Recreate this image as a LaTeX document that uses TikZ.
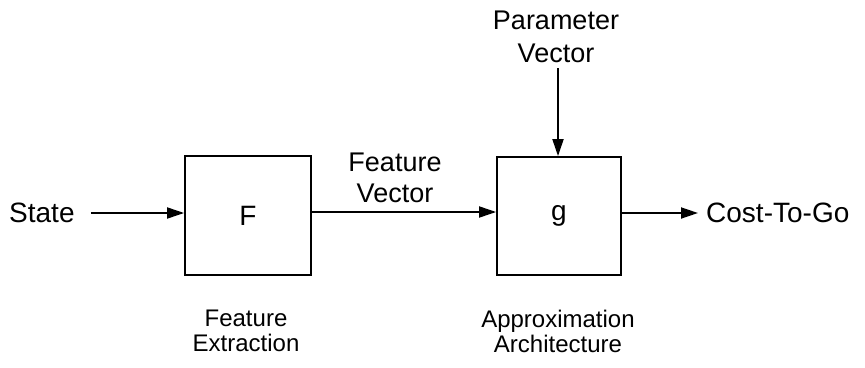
\documentclass[tikz,border=0pt]{standalone}
\usepackage{fontspec}
\setmainfont{Liberation Sans}
\usetikzlibrary{arrows.meta}
\begin{document}
\begin{tikzpicture}[x=1pt,y=-1pt,
  blk/.style={draw,line width=1.8pt,minimum width=126pt,minimum height=119pt,inner sep=0pt,font=\fontsize{28}{30}\selectfont},
  lbl/.style={inner sep=2pt,align=center},
  conn/.style={line width=1.8pt,-{Triangle[length=17pt,width=11pt]}}]
\useasboundingbox (0,0) rectangle (865,367);
\node[blk] (F) at (248,215.5) {F};
\node[blk,minimum width=124pt,minimum height=118pt] (g) at (559,216) {g};
\node[lbl,font=\fontsize{28}{30}\selectfont,anchor=west,inner sep=0pt] (state) at (9,213) {State};
\node[lbl,font=\fontsize{28}{30}\selectfont,anchor=west,inner sep=0pt] (cost) at (706,213) {Cost-To-Go};
\node[lbl,font=\fontsize{27}{31}\selectfont] (fv) at (395,178) {Feature\\Vector};
\node[lbl,font=\fontsize{27}{33}\selectfont] (pv) at (556,37) {Parameter\\Vector};
\node[lbl,font=\fontsize{24}{25}\selectfont] (fe) at (246,331) {Feature\\Extraction};
\node[lbl,font=\fontsize{24}{25}\selectfont] (aa) at (558,331) {Approximation\\Architecture};
\coordinate (pvs) at (558,68);
\draw[conn,shorten <=16pt] (state.east) -- (state.east -| F.west);
\draw[conn] (F.east |- 0,212) -- (g.west |- 0,212);
\draw[conn] (pvs) -- (pvs |- g.north);
\draw[conn,shorten >=8pt] (g.east |- cost.west) -- (cost.west);
\end{tikzpicture}
\end{document}
